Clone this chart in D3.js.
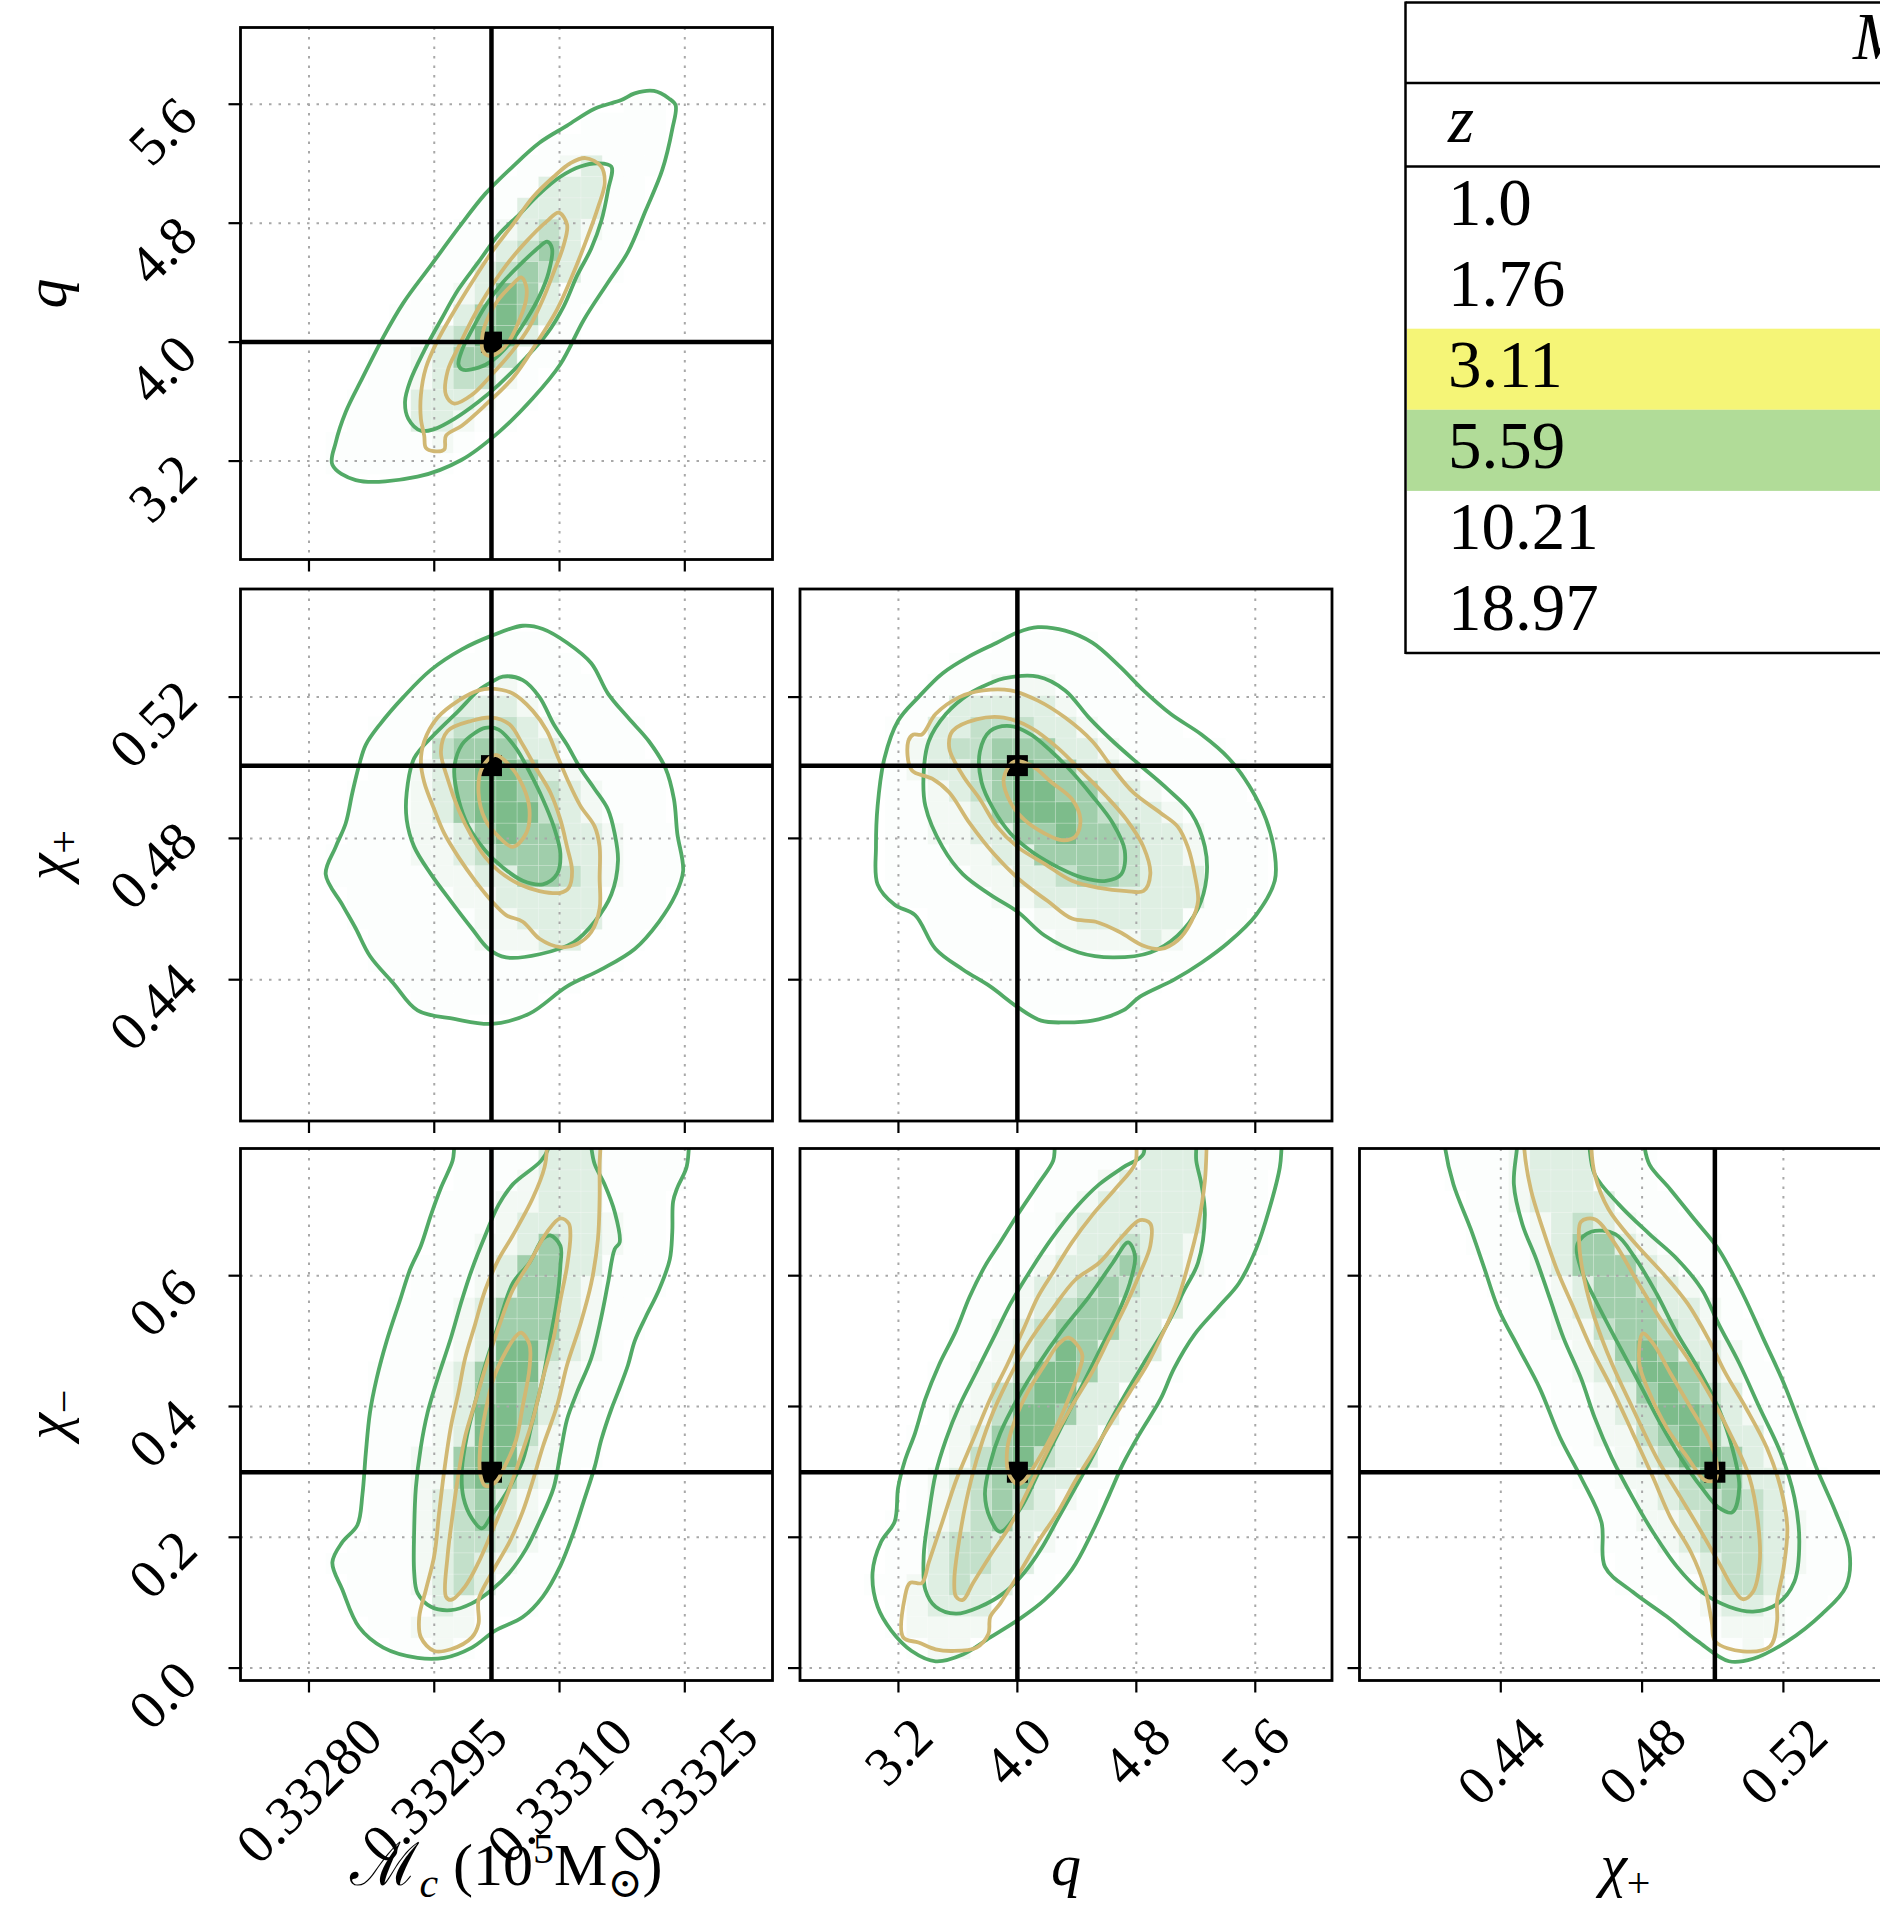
<!DOCTYPE html>
<html>
<head>
<meta charset="utf-8">
<script src="https://cdn.jsdelivr.net/npm/d3@7"></script>
<style>
body { margin: 0; background: #fff; }
svg { display: block; font-family: "Liberation Serif", "DejaVu Serif", serif; }
</style>
</head>
<body>
<svg id="chart" width="1880" height="1908"></svg>
<script>
// axis ranges, ticks and injected (true) values
const mcRange = [0.332718, 0.333355];
const qRange = [2.538, 6.116];
const chipRange = [0.4000, 0.5506];
const chimRange = [-0.019, 0.7945];

const mcTicks = [0.33280, 0.33295, 0.33310, 0.33325];
const qTicks = [3.2, 4.0, 4.8, 5.6];
const chipTicks = [0.44, 0.48, 0.52];
const chimTicks = [0.0, 0.2, 0.4, 0.6];

const truthMc = 0.3330185, truthQ = 4.0, truthChip = 0.5006, truthChim = 0.2995;

// redshift table
const zValues = ["1.0", "1.76", "3.11", "5.59", "10.21", "18.97"];
const zColors = { "3.11": "#f5f577", "5.59": "#b1dc98" };

// contours: g = green run (z=5.59), y = gold run (z=3.11), 3 = outer ... 1 = inner
// Mc vs q
const mcQ_g3 = [[0.332828,3.175],[0.332856,3.072],[0.332930,3.095],[0.332983,3.209],[0.333027,3.393],[0.333068,3.622],[0.333101,3.851],[0.333129,4.149],[0.333158,4.401],[0.333182,4.607],[0.333203,4.883],[0.333223,5.158],[0.333235,5.433],[0.333239,5.593],[0.333231,5.639],[0.333213,5.689],[0.333190,5.673],[0.333174,5.628],[0.333142,5.570],[0.333109,5.456],[0.333076,5.341],[0.333044,5.181],[0.333011,4.997],[0.332979,4.768],[0.332946,4.516],[0.332913,4.264],[0.332889,4.034],[0.332864,3.759],[0.332844,3.530],[0.332832,3.324]];
const mcQ_g2 = [[0.333162,5.181],[0.333158,5.020],[0.333150,4.814],[0.333138,4.630],[0.333121,4.447],[0.333105,4.241],[0.333085,4.057],[0.333060,3.897],[0.333027,3.713],[0.333003,3.599],[0.332974,3.484],[0.332950,3.415],[0.332934,3.404],[0.332919,3.484],[0.332915,3.599],[0.332921,3.736],[0.332938,3.943],[0.332958,4.149],[0.332979,4.355],[0.333003,4.539],[0.333027,4.722],[0.333052,4.860],[0.333076,4.997],[0.333101,5.112],[0.333125,5.181],[0.333146,5.203]];
const mcQ_g1 = [[0.333085,4.676],[0.333091,4.630],[0.333087,4.470],[0.333076,4.309],[0.333060,4.149],[0.333040,3.989],[0.333019,3.874],[0.333003,3.828],[0.332983,3.817],[0.332979,3.851],[0.332983,3.943],[0.332995,4.080],[0.333011,4.241],[0.333032,4.401],[0.333056,4.539],[0.333076,4.642]];
const mcQ_y3 = [[0.333131,5.238],[0.333150,5.181],[0.333154,5.066],[0.333146,4.905],[0.333133,4.699],[0.333117,4.470],[0.333097,4.218],[0.333072,3.989],[0.333044,3.759],[0.333011,3.576],[0.332983,3.438],[0.332964,3.370],[0.332962,3.278],[0.332950,3.266],[0.332940,3.289],[0.332938,3.370],[0.332934,3.484],[0.332934,3.645],[0.332940,3.828],[0.332954,4.011],[0.332970,4.172],[0.332995,4.401],[0.333019,4.607],[0.333044,4.791],[0.333068,4.974],[0.333093,5.112],[0.333113,5.203]];
const mcQ_y2 = [[0.333099,4.871],[0.333109,4.791],[0.333105,4.653],[0.333093,4.470],[0.333080,4.287],[0.333064,4.103],[0.333044,3.943],[0.333019,3.782],[0.332995,3.645],[0.332974,3.587],[0.332964,3.645],[0.332966,3.805],[0.332979,3.966],[0.332995,4.149],[0.333011,4.309],[0.333036,4.516],[0.333060,4.676],[0.333085,4.814]];
const mcQ_y1 = [[0.333054,4.436],[0.333060,4.378],[0.333060,4.287],[0.333052,4.149],[0.333040,4.011],[0.333027,3.931],[0.333015,3.908],[0.333008,3.943],[0.333008,4.057],[0.333015,4.172],[0.333027,4.287],[0.333044,4.390]];

// Mc vs chi+
const mcChip_g3 = [[0.333056,0.5402],[0.333080,0.5393],[0.333109,0.5354],[0.333138,0.5296],[0.333158,0.5210],[0.333182,0.5142],[0.333207,0.5075],[0.333227,0.4998],[0.333237,0.4911],[0.333241,0.4814],[0.333248,0.4708],[0.333239,0.4641],[0.333219,0.4564],[0.333190,0.4487],[0.333150,0.4429],[0.333109,0.4381],[0.333064,0.4304],[0.333019,0.4275],[0.332974,0.4289],[0.332930,0.4313],[0.332901,0.4390],[0.332873,0.4467],[0.332856,0.4545],[0.332840,0.4612],[0.332820,0.4699],[0.332832,0.4776],[0.332844,0.4843],[0.332852,0.4930],[0.332860,0.5007],[0.332868,0.5065],[0.332885,0.5123],[0.332913,0.5200],[0.332946,0.5277],[0.332983,0.5335],[0.333019,0.5374]];
const mcChip_g2 = [[0.333032,0.5258],[0.333056,0.5248],[0.333076,0.5200],[0.333093,0.5123],[0.333109,0.5065],[0.333125,0.4998],[0.333142,0.4940],[0.333158,0.4882],[0.333166,0.4814],[0.333170,0.4737],[0.333162,0.4641],[0.333142,0.4564],[0.333117,0.4506],[0.333076,0.4472],[0.333036,0.4463],[0.333015,0.4487],[0.332995,0.4545],[0.332970,0.4622],[0.332946,0.4699],[0.332926,0.4776],[0.332917,0.4853],[0.332917,0.4930],[0.332926,0.5027],[0.332950,0.5094],[0.332979,0.5161],[0.333003,0.5219],[0.333019,0.5243]];
const mcChip_g1 = [[0.333011,0.5113],[0.333027,0.5108],[0.333048,0.5055],[0.333064,0.4988],[0.333080,0.4911],[0.333093,0.4834],[0.333101,0.4757],[0.333097,0.4699],[0.333080,0.4670],[0.333056,0.4680],[0.333032,0.4718],[0.333011,0.4766],[0.332991,0.4834],[0.332979,0.4911],[0.332974,0.4998],[0.332983,0.5065],[0.332999,0.5099]];
const mcChip_y3 = [[0.333019,0.5224],[0.333044,0.5210],[0.333068,0.5161],[0.333085,0.5104],[0.333097,0.5036],[0.333109,0.4969],[0.333125,0.4892],[0.333142,0.4834],[0.333148,0.4776],[0.333148,0.4689],[0.333148,0.4602],[0.333138,0.4535],[0.333121,0.4501],[0.333101,0.4492],[0.333076,0.4516],[0.333056,0.4564],[0.333036,0.4583],[0.333019,0.4622],[0.332999,0.4680],[0.332979,0.4747],[0.332962,0.4814],[0.332950,0.4882],[0.332938,0.4959],[0.332934,0.5017],[0.332938,0.5075],[0.332954,0.5142],[0.332979,0.5190],[0.333003,0.5219]];
const mcChip_y2 = [[0.333019,0.5142],[0.333040,0.5123],[0.333056,0.5065],[0.333072,0.4998],[0.333089,0.4930],[0.333101,0.4853],[0.333109,0.4776],[0.333115,0.4708],[0.333111,0.4660],[0.333101,0.4646],[0.333076,0.4651],[0.333052,0.4670],[0.333027,0.4708],[0.333011,0.4747],[0.332995,0.4805],[0.332979,0.4882],[0.332966,0.4969],[0.332958,0.5046],[0.332966,0.5104],[0.332995,0.5133]];
const mcChip_y1 = [[0.333023,0.5036],[0.333040,0.5007],[0.333056,0.4949],[0.333064,0.4882],[0.333060,0.4814],[0.333044,0.4776],[0.333027,0.4805],[0.333011,0.4853],[0.333003,0.4930],[0.333007,0.4998]];

// q vs chi+
const qChip_g3 = [[4.138,0.5398],[4.321,0.5388],[4.504,0.5354],[4.688,0.5287],[4.848,0.5219],[5.032,0.5152],[5.238,0.5094],[5.421,0.5027],[5.559,0.4949],[5.673,0.4853],[5.731,0.4757],[5.731,0.4680],[5.605,0.4583],[5.421,0.4506],[5.238,0.4448],[5.054,0.4400],[4.825,0.4352],[4.711,0.4313],[4.504,0.4284],[4.321,0.4279],[4.160,0.4284],[4.000,0.4323],[3.817,0.4381],[3.633,0.4429],[3.450,0.4487],[3.312,0.4583],[3.175,0.4612],[3.060,0.4670],[3.049,0.4776],[3.060,0.4892],[3.106,0.5027],[3.198,0.5133],[3.335,0.5200],[3.496,0.5267],[3.679,0.5316],[3.862,0.5354],[4.000,0.5383]];
const qChip_g2 = [[3.908,0.5253],[4.138,0.5258],[4.321,0.5219],[4.481,0.5142],[4.642,0.5075],[4.825,0.5007],[5.009,0.4940],[5.169,0.4872],[5.261,0.4776],[5.272,0.4689],[5.215,0.4602],[5.077,0.4525],[4.894,0.4477],[4.642,0.4463],[4.413,0.4477],[4.183,0.4525],[4.000,0.4593],[3.817,0.4641],[3.633,0.4699],[3.496,0.4776],[3.381,0.4892],[3.370,0.4988],[3.404,0.5075],[3.519,0.5152],[3.679,0.5210],[3.817,0.5239]];
const qChip_g1 = [[3.817,0.5104],[3.954,0.5118],[4.092,0.5094],[4.229,0.5046],[4.367,0.4988],[4.504,0.4920],[4.642,0.4843],[4.722,0.4766],[4.699,0.4699],[4.596,0.4680],[4.436,0.4689],[4.275,0.4718],[4.115,0.4757],[3.954,0.4814],[3.840,0.4882],[3.759,0.4959],[3.748,0.5046]];
const qChip_y3 = [[3.771,0.5219],[3.954,0.5219],[4.138,0.5190],[4.321,0.5142],[4.504,0.5075],[4.642,0.4998],[4.779,0.4930],[4.963,0.4872],[5.077,0.4834],[5.146,0.4776],[5.192,0.4699],[5.215,0.4622],[5.169,0.4564],[5.077,0.4511],[4.963,0.4487],[4.848,0.4496],[4.688,0.4535],[4.527,0.4564],[4.367,0.4573],[4.206,0.4622],[4.023,0.4680],[3.840,0.4757],[3.679,0.4843],[3.542,0.4930],[3.427,0.4969],[3.289,0.4993],[3.266,0.5075],[3.301,0.5094],[3.358,0.5094],[3.450,0.5152],[3.610,0.5200]];
const qChip_y2 = [[3.725,0.5137],[3.908,0.5142],[4.092,0.5113],[4.275,0.5055],[4.436,0.4988],[4.596,0.4920],[4.734,0.4853],[4.848,0.4776],[4.894,0.4699],[4.848,0.4651],[4.734,0.4651],[4.550,0.4660],[4.367,0.4680],[4.183,0.4728],[4.000,0.4776],[3.862,0.4834],[3.748,0.4911],[3.633,0.4978],[3.542,0.5055],[3.564,0.5104]];
const qChip_y1 = [[3.977,0.5017],[4.092,0.5007],[4.229,0.4959],[4.367,0.4911],[4.424,0.4853],[4.390,0.4805],[4.298,0.4795],[4.183,0.4814],[4.046,0.4853],[3.954,0.4901],[3.908,0.4969]];

// Mc vs chi- (contours run off the top edge)
const mcChim_g3 = [[0.332979,0.8385],[0.332974,0.7968],[0.332972,0.7760],[0.332958,0.7344],[0.332946,0.6927],[0.332934,0.6458],[0.332921,0.6094],[0.332909,0.5625],[0.332893,0.5000],[0.332881,0.4427],[0.332873,0.3906],[0.332868,0.3281],[0.332864,0.2656],[0.332858,0.2188],[0.332840,0.1927],[0.332828,0.1615],[0.332840,0.1198],[0.332860,0.0625],[0.332889,0.0313],[0.332930,0.0156],[0.332962,0.0156],[0.332995,0.0313],[0.333023,0.0573],[0.333056,0.0781],[0.333080,0.1094],[0.333101,0.1563],[0.333117,0.2083],[0.333129,0.2552],[0.333142,0.3073],[0.333150,0.3490],[0.333162,0.3958],[0.333170,0.4219],[0.333182,0.4635],[0.333190,0.5000],[0.333203,0.5365],[0.333219,0.5781],[0.333232,0.6250],[0.333235,0.6667],[0.333236,0.7135],[0.333241,0.7344],[0.333252,0.7656],[0.333255,0.7968],[0.333258,0.8385]];
const mcChim_g2 = [[0.333087,0.8385],[0.333087,0.7968],[0.333078,0.7760],[0.333044,0.7396],[0.333027,0.7083],[0.333011,0.6615],[0.332995,0.6094],[0.332983,0.5625],[0.332970,0.5052],[0.332954,0.4427],[0.332942,0.3906],[0.332934,0.3385],[0.332928,0.2760],[0.332926,0.2135],[0.332926,0.1458],[0.332930,0.1146],[0.332946,0.0938],[0.332970,0.0886],[0.332995,0.0990],[0.333019,0.1198],[0.333040,0.1458],[0.333060,0.1823],[0.333076,0.2240],[0.333093,0.2760],[0.333101,0.3281],[0.333109,0.3802],[0.333121,0.4219],[0.333138,0.4740],[0.333150,0.5365],[0.333158,0.5885],[0.333166,0.6406],[0.333172,0.6510],[0.333166,0.6979],[0.333154,0.7396],[0.333142,0.7708],[0.333138,0.7968],[0.333135,0.8385]];
const mcChim_g1 = [[0.333089,0.6615],[0.333101,0.6458],[0.333101,0.6146],[0.333097,0.5625],[0.333089,0.5052],[0.333080,0.4427],[0.333068,0.3802],[0.333056,0.3177],[0.333040,0.2760],[0.333019,0.2344],[0.333007,0.2135],[0.332995,0.2292],[0.332985,0.2604],[0.332983,0.3021],[0.332989,0.3542],[0.332999,0.4063],[0.333011,0.4635],[0.333027,0.5260],[0.333044,0.5885],[0.333064,0.6198],[0.333080,0.6562]];
const mcChim_y3 = [[0.333085,0.8385],[0.333085,0.7968],[0.333082,0.7656],[0.333068,0.7187],[0.333044,0.6615],[0.333027,0.6250],[0.333011,0.5781],[0.332999,0.5260],[0.332987,0.4740],[0.332979,0.4219],[0.332970,0.3698],[0.332962,0.3021],[0.332956,0.2396],[0.332950,0.1719],[0.332940,0.1198],[0.332932,0.0781],[0.332934,0.0469],[0.332950,0.0261],[0.332970,0.0287],[0.332995,0.0469],[0.333003,0.0677],[0.333003,0.1042],[0.333019,0.1458],[0.333040,0.1927],[0.333056,0.2396],[0.333068,0.2865],[0.333080,0.3385],[0.333097,0.4010],[0.333109,0.4635],[0.333125,0.5260],[0.333138,0.5885],[0.333146,0.6562],[0.333148,0.7187],[0.333148,0.7708],[0.333149,0.7968],[0.333150,0.8385]];
const mcChim_y2 = [[0.333101,0.6875],[0.333111,0.6797],[0.333113,0.6615],[0.333109,0.6146],[0.333101,0.5625],[0.333093,0.5052],[0.333080,0.4427],[0.333068,0.3802],[0.333052,0.3177],[0.333036,0.2604],[0.333019,0.2083],[0.333003,0.1615],[0.332987,0.1250],[0.332970,0.1042],[0.332964,0.1094],[0.332966,0.1719],[0.332972,0.2344],[0.332979,0.2969],[0.332987,0.3542],[0.332999,0.4063],[0.333011,0.4583],[0.333027,0.5208],[0.333044,0.5781],[0.333064,0.6198],[0.333085,0.6667]];
const mcChim_y1 = [[0.333054,0.5130],[0.333064,0.4948],[0.333064,0.4583],[0.333056,0.4010],[0.333048,0.3490],[0.333036,0.3125],[0.333023,0.2839],[0.333011,0.2787],[0.333005,0.2969],[0.333005,0.3385],[0.333011,0.3906],[0.333021,0.4427],[0.333036,0.4844],[0.333048,0.5078]];

// q vs chi-
const qChim_g3 = [[4.275,0.8385],[4.252,0.7968],[4.241,0.7760],[4.138,0.7396],[4.000,0.6927],[3.885,0.6510],[3.782,0.6146],[3.679,0.5677],[3.587,0.5156],[3.473,0.4635],[3.381,0.4115],[3.312,0.3594],[3.244,0.3177],[3.198,0.2760],[3.175,0.2240],[3.083,0.1927],[3.026,0.1458],[3.060,0.0938],[3.152,0.0573],[3.289,0.0261],[3.450,0.0104],[3.633,0.0208],[3.817,0.0469],[4.000,0.0729],[4.183,0.1042],[4.367,0.1510],[4.504,0.2083],[4.619,0.2656],[4.711,0.3125],[4.825,0.3594],[4.963,0.4115],[5.054,0.4583],[5.192,0.5104],[5.352,0.5521],[5.490,0.5885],[5.605,0.6406],[5.696,0.7031],[5.765,0.7656],[5.777,0.7968],[5.788,0.8385]];
const qChim_g2 = [[4.848,0.8385],[4.848,0.7864],[4.711,0.7656],[4.550,0.7396],[4.390,0.7031],[4.229,0.6562],[4.092,0.6094],[3.954,0.5573],[3.840,0.5052],[3.725,0.4531],[3.610,0.4010],[3.519,0.3490],[3.450,0.2969],[3.404,0.2344],[3.370,0.1719],[3.381,0.1198],[3.450,0.0938],[3.587,0.0833],[3.748,0.0938],[3.908,0.1146],[4.046,0.1458],[4.160,0.1823],[4.275,0.2292],[4.390,0.2760],[4.504,0.3229],[4.619,0.3750],[4.734,0.4219],[4.871,0.4740],[5.009,0.5260],[5.123,0.5781],[5.215,0.6198],[5.261,0.6927],[5.238,0.7396],[5.203,0.7760],[5.203,0.7968],[5.203,0.8385]];
const qChim_g1 = [[4.745,0.6510],[4.791,0.6302],[4.756,0.5885],[4.665,0.5365],[4.550,0.4844],[4.413,0.4219],[4.275,0.3594],[4.138,0.2969],[4.023,0.2448],[3.885,0.2083],[3.817,0.2292],[3.782,0.2656],[3.817,0.3125],[3.885,0.3594],[4.000,0.4115],[4.138,0.4635],[4.298,0.5156],[4.481,0.5677],[4.642,0.6198]];
const qChim_y3 = [[4.802,0.8385],[4.802,0.7968],[4.791,0.7708],[4.665,0.7344],[4.504,0.6927],[4.367,0.6510],[4.252,0.6094],[4.138,0.5677],[4.046,0.5208],[3.931,0.4635],[3.817,0.4115],[3.702,0.3490],[3.587,0.2865],[3.496,0.2240],[3.404,0.1615],[3.358,0.1302],[3.278,0.1302],[3.244,0.1094],[3.232,0.0469],[3.335,0.0391],[3.450,0.0287],[3.564,0.0261],[3.725,0.0313],[3.805,0.0521],[3.817,0.0781],[3.885,0.0990],[4.000,0.1406],[4.138,0.1927],[4.275,0.2396],[4.390,0.2865],[4.504,0.3281],[4.642,0.3802],[4.756,0.4219],[4.871,0.4635],[4.986,0.5156],[5.077,0.5625],[5.146,0.6146],[5.215,0.6771],[5.261,0.7448],[5.272,0.7968],[5.272,0.8385]];
const qChim_y2 = [[4.825,0.6849],[4.894,0.6797],[4.894,0.6458],[4.825,0.6042],[4.734,0.5573],[4.619,0.5052],[4.504,0.4531],[4.367,0.4010],[4.229,0.3438],[4.092,0.2813],[3.954,0.2188],[3.817,0.1719],[3.702,0.1302],[3.633,0.1042],[3.587,0.1094],[3.576,0.1354],[3.610,0.1979],[3.656,0.2552],[3.725,0.3177],[3.817,0.3802],[3.931,0.4375],[4.069,0.4948],[4.229,0.5469],[4.390,0.5938],[4.550,0.6198],[4.711,0.6615]];
const qChim_y1 = [[4.344,0.5052],[4.436,0.4792],[4.413,0.4531],[4.344,0.4115],[4.252,0.3646],[4.138,0.3177],[4.046,0.2865],[4.000,0.2813],[3.943,0.2969],[3.931,0.3333],[3.977,0.3750],[4.069,0.4219],[4.183,0.4635],[4.275,0.4948]];

// chi+ vs chi-
const chipChim_g3 = [[0.4237,0.8382],[0.4242,0.7965],[0.4266,0.7395],[0.4315,0.6711],[0.4354,0.6104],[0.4393,0.5496],[0.4451,0.4889],[0.4510,0.4281],[0.4568,0.3522],[0.4627,0.2914],[0.4685,0.2230],[0.4695,0.1547],[0.4773,0.1167],[0.4870,0.0787],[0.4958,0.0408],[0.5046,0.0104],[0.5114,0.0142],[0.5211,0.0408],[0.5309,0.0825],[0.5377,0.1243],[0.5387,0.1775],[0.5348,0.2382],[0.5299,0.2990],[0.5250,0.3673],[0.5201,0.4357],[0.5143,0.5041],[0.5085,0.5724],[0.5016,0.6408],[0.4948,0.6863],[0.4880,0.7319],[0.4821,0.7699],[0.4807,0.7965],[0.4802,0.8382]];
const chipChim_g2 = [[0.4451,0.8382],[0.4446,0.7965],[0.4437,0.7395],[0.4461,0.6787],[0.4500,0.6256],[0.4539,0.5648],[0.4578,0.5041],[0.4627,0.4433],[0.4666,0.3825],[0.4714,0.3218],[0.4773,0.2610],[0.4831,0.2078],[0.4899,0.1547],[0.4968,0.1167],[0.5046,0.0939],[0.5114,0.0863],[0.5182,0.0977],[0.5231,0.1319],[0.5245,0.1927],[0.5231,0.2610],[0.5192,0.3294],[0.5133,0.3977],[0.5075,0.4661],[0.5016,0.5268],[0.4968,0.5800],[0.4899,0.6256],[0.4821,0.6635],[0.4734,0.7091],[0.4666,0.7547],[0.4651,0.7965],[0.4646,0.8382]];
const chipChim_g1 = [[0.4617,0.6484],[0.4656,0.6673],[0.4724,0.6635],[0.4782,0.6256],[0.4841,0.5724],[0.4899,0.5116],[0.4958,0.4585],[0.5016,0.3977],[0.5055,0.3370],[0.5075,0.2762],[0.5055,0.2382],[0.5016,0.2458],[0.4968,0.2762],[0.4909,0.3218],[0.4851,0.3749],[0.4792,0.4357],[0.4724,0.5041],[0.4666,0.5648],[0.4627,0.6104]];
const chipChim_y3 = [[0.4466,0.8382],[0.4466,0.7965],[0.4485,0.7319],[0.4519,0.6711],[0.4558,0.6104],[0.4607,0.5496],[0.4656,0.4889],[0.4714,0.4281],[0.4773,0.3597],[0.4831,0.2914],[0.4880,0.2306],[0.4938,0.1775],[0.4977,0.1243],[0.4997,0.0711],[0.5007,0.0408],[0.5085,0.0256],[0.5162,0.0332],[0.5182,0.0711],[0.5182,0.1015],[0.5201,0.1547],[0.5211,0.2154],[0.5192,0.2762],[0.5153,0.3370],[0.5094,0.3977],[0.5036,0.4509],[0.4987,0.5041],[0.4929,0.5572],[0.4860,0.6028],[0.4782,0.6484],[0.4705,0.7015],[0.4666,0.7547],[0.4656,0.7965],[0.4656,0.8382]];
const chipChim_y2 = [[0.4627,0.6825],[0.4666,0.6863],[0.4724,0.6484],[0.4782,0.5952],[0.4851,0.5344],[0.4929,0.4737],[0.4997,0.4129],[0.5055,0.3522],[0.5104,0.2914],[0.5128,0.2230],[0.5133,0.1623],[0.5114,0.1167],[0.5085,0.1053],[0.5055,0.1243],[0.5016,0.1623],[0.4968,0.2078],[0.4909,0.2610],[0.4841,0.3218],[0.4773,0.3977],[0.4714,0.4661],[0.4666,0.5344],[0.4636,0.5952],[0.4622,0.6484]];
const chipChim_y1 = [[0.4802,0.5116],[0.4831,0.4965],[0.4880,0.4509],[0.4938,0.3977],[0.4987,0.3522],[0.5011,0.3142],[0.5007,0.2876],[0.4977,0.2876],[0.4929,0.3218],[0.4870,0.3673],[0.4821,0.4205],[0.4792,0.4661]];

// ---------------------------------------------------------------

const svg = d3.select("#chart");

const size = 532;
const colX = [240.5, 800, 1359.5];
const rowY = [27.5, 589, 1148.5];
const greenColor = "#52aa66";
const goldColor = "#d1b873";
const cellColor = "#4fa463";
const cellAlpha = [0, 0.015, 0.07, 0.18, 0.34, 0.54, 0.74];
const tickFont = 55;
const labelFont = 60;
const nBins = 25;

const params = {
	mc: { range: mcRange, ticks: mcTicks, fmt: d3.format(".5f"), truth: truthMc },
	q: { range: qRange, ticks: qTicks, fmt: d3.format(".1f"), truth: truthQ },
	chip: { range: chipRange, ticks: chipTicks, fmt: d3.format(".2f"), truth: truthChip },
	chim: { range: chimRange, ticks: chimTicks, fmt: d3.format(".1f"), truth: truthChim },
};
const colParams = ["mc", "q", "chip"];
const rowParams = ["q", "chip", "chim"];

const panels = [
	{ row: 0, col: 0, green: [mcQ_g3, mcQ_g2, mcQ_g1], gold: [mcQ_y3, mcQ_y2, mcQ_y1] },
	{ row: 1, col: 0, green: [mcChip_g3, mcChip_g2, mcChip_g1], gold: [mcChip_y3, mcChip_y2, mcChip_y1] },
	{ row: 1, col: 1, green: [qChip_g3, qChip_g2, qChip_g1], gold: [qChip_y3, qChip_y2, qChip_y1] },
	{ row: 2, col: 0, green: [mcChim_g3, mcChim_g2, mcChim_g1], gold: [mcChim_y3, mcChim_y2, mcChim_y1] },
	{ row: 2, col: 1, green: [qChim_g3, qChim_g2, qChim_g1], gold: [qChim_y3, qChim_y2, qChim_y1] },
	{ row: 2, col: 2, green: [chipChim_g3, chipChim_g2, chipChim_g1], gold: [chipChim_y3, chipChim_y2, chipChim_y1] },
];

// Table (cut by the right edge, as in the original)
var tableX = 1405.5;
var bodyTop = 166.5;
var rowH = 81.1;
var table = svg.append("g").attr("id", "ztable");

table.selectAll("rect.hl")
	.data(zValues.map(function (z, i) { return { z: z, i: i }; }).filter(function (d) { return zColors[d.z]; }))
	.join("rect")
	.attr("class", "hl")
	.attr("x", tableX + 1.5)
	.attr("y", function (d) { return bodyTop + d.i * rowH; })
	.attr("width", 1880 - tableX)
	.attr("height", rowH)
	.attr("fill", function (d) { return zColors[d.z]; });

table.selectAll("text.zval")
	.data(zValues)
	.join("text")
	.attr("class", "zval")
	.attr("x", 1448)
	.attr("y", function (d, i) { return bodyTop + i * rowH + 58; })
	.style("font-size", "67px")
	.text(function (d) { return d; });

table.append("text").attr("x", 1448).attr("y", 142)
	.style("font-size", "67px").style("font-style", "italic").text("z");
table.append("text").attr("x", 1853).attr("y", 59)
	.style("font-size", "67px").style("font-style", "italic").text("M");

table.selectAll("line.h")
	.data([2.5, 83, bodyTop, bodyTop + zValues.length * rowH])
	.join("line")
	.attr("class", "h")
	.attr("x1", tableX).attr("x2", 1880)
	.attr("y1", function (d) { return d; }).attr("y2", function (d) { return d; })
	.attr("stroke", "#000").attr("stroke-width", 2.5);
table.append("line")
	.attr("x1", tableX).attr("x2", tableX)
	.attr("y1", 1.5).attr("y2", bodyTop + zValues.length * rowH + 1)
	.attr("stroke", "#000").attr("stroke-width", 2.5);

// helper for 45 degree tick labels: returns side of rotated box
function rotatedSide(node) {
	var w = node.getComputedTextLength();
	return (w + 0.7 * tickFont) * Math.SQRT1_2;
}

panels.forEach(function (p, k) {
	var px = params[colParams[p.col]];
	var py = params[rowParams[p.row]];
	var left = colX[p.col], top = rowY[p.row];
	var x = d3.scaleLinear().domain(px.range).range([left, left + size]);
	var y = d3.scaleLinear().domain(py.range).range([top + size, top]);

	svg.append("clipPath").attr("id", "clip" + k)
		.append("rect").attr("x", left).attr("y", top).attr("width", size).attr("height", size);
	var g = svg.append("g").attr("clip-path", "url(#clip" + k + ")");

	// 2D histogram shading: cell depth = number of contours around the cell centre
	var all = p.green.concat(p.gold);
	var dx = (px.range[1] - px.range[0]) / nBins;
	var dy = (py.range[1] - py.range[0]) / nBins;
	var cells = [];
	for (var i = 0; i < nBins; i++) {
		for (var j = 0; j < nBins; j++) {
			var cx = px.range[0] + (i + 0.5) * dx;
			var cy = py.range[0] + (j + 0.5) * dy;
			var n = all.filter(function (poly) { return d3.polygonContains(poly, [cx, cy]); }).length;
			if (n > 0) cells.push({ x0: px.range[0] + i * dx, y0: py.range[0] + j * dy, n: n });
		}
	}
	g.selectAll("rect.cell")
		.data(cells)
		.join("rect")
		.attr("class", "cell")
		.attr("x", function (d) { return x(d.x0); })
		.attr("y", function (d) { return y(d.y0 + dy); })
		.attr("width", function (d) { return x(d.x0 + dx) - x(d.x0); })
		.attr("height", function (d) { return y(d.y0) - y(d.y0 + dy); })
		.attr("fill", cellColor)
		.attr("fill-opacity", function (d) { return cellAlpha[d.n]; })
		.attr("stroke", "#fff")
		.attr("stroke-opacity", 0.25)
		.attr("stroke-width", 0.8);

	// dotted grid
	g.selectAll("line.gx").data(px.ticks).join("line")
		.attr("x1", function (d) { return x(d); }).attr("x2", function (d) { return x(d); })
		.attr("y1", top).attr("y2", top + size)
		.attr("stroke", "#a8a8a8").attr("stroke-width", 2).attr("stroke-dasharray", "2.5,7");
	g.selectAll("line.gy").data(py.ticks).join("line")
		.attr("y1", function (d) { return y(d); }).attr("y2", function (d) { return y(d); })
		.attr("x1", left).attr("x2", left + size)
		.attr("stroke", "#a8a8a8").attr("stroke-width", 2).attr("stroke-dasharray", "2.5,7");

	// truth marker
	g.append("rect")
		.attr("x", x(px.truth) - 10.5).attr("y", y(py.truth) - 10.5)
		.attr("width", 21).attr("height", 21)
		.attr("fill", "#000");

	var line = d3.line()
		.x(function (d) { return x(d[0]); })
		.y(function (d) { return y(d[1]); })
		.curve(d3.curveCatmullRomClosed.alpha(0.5));

	g.selectAll("path.green").data(p.green).join("path")
		.attr("d", line).attr("fill", "none")
		.attr("stroke", greenColor).attr("stroke-width", 3.8).attr("stroke-linejoin", "round");
	g.selectAll("path.gold").data(p.gold).join("path")
		.attr("d", line).attr("fill", "none")
		.attr("stroke", goldColor).attr("stroke-width", 3.8).attr("stroke-linejoin", "round");

	// truth lines
	g.append("line")
		.attr("x1", x(px.truth)).attr("x2", x(px.truth))
		.attr("y1", top).attr("y2", top + size)
		.attr("stroke", "#000").attr("stroke-width", 4.5);
	g.append("line")
		.attr("x1", left).attr("x2", left + size)
		.attr("y1", y(py.truth)).attr("y2", y(py.truth))
		.attr("stroke", "#000").attr("stroke-width", 4.5);

	// frame
	svg.append("rect")
		.attr("x", left).attr("y", top).attr("width", size).attr("height", size)
		.attr("fill", "none").attr("stroke", "#000").attr("stroke-width", 2.8);

	// outward ticks
	svg.selectAll("line.tx" + k).data(px.ticks).join("line")
		.attr("x1", function (d) { return x(d); }).attr("x2", function (d) { return x(d); })
		.attr("y1", top + size).attr("y2", top + size + 12)
		.attr("stroke", "#000").attr("stroke-width", 2.2);
	svg.selectAll("line.ty" + k).data(py.ticks).join("line")
		.attr("y1", function (d) { return y(d); }).attr("y2", function (d) { return y(d); })
		.attr("x1", left - 12).attr("x2", left)
		.attr("stroke", "#000").attr("stroke-width", 2.2);

	// tick labels only on the outer edge
	if (p.row === 2) {
		svg.selectAll("text.lx" + k).data(px.ticks).join("text")
			.attr("text-anchor", "middle").attr("dominant-baseline", "central")
			.style("font-size", tickFont + "px")
			.text(function (d) { return px.fmt(d); })
			.attr("transform", function (d) {
				var s = rotatedSide(this);
				return "translate(" + x(d) + "," + (top + size + 33 + s / 2) + ") rotate(-45)";
			});
	}
	if (p.col === 0) {
		svg.selectAll("text.ly" + k).data(py.ticks).join("text")
			.attr("text-anchor", "middle").attr("dominant-baseline", "central")
			.style("font-size", tickFont + "px")
			.text(function (d) { return py.fmt(d); })
			.attr("transform", function (d) {
				var s = rotatedSide(this);
				return "translate(" + (left - 40 - s / 2) + "," + (y(d) + 27) + ") rotate(-45)";
			});
	}
});

// axis labels
function addLabel(sel, parts) {
	parts.forEach(function (pt) {
		var t = sel.append("tspan").text(pt.t);
		if (pt.italic) t.style("font-style", "italic");
		if (pt.size) t.style("font-size", pt.size + "px");
		if (pt.dy) t.attr("dy", pt.dy);
	});
}

var leftLabels = [
	[{ t: "q", italic: true }],
	[{ t: "χ", italic: true }, { t: "+", size: 42, dy: 12 }],
	[{ t: "χ", italic: true }, { t: "−", size: 42, dy: 12 }],
];
leftLabels.forEach(function (parts, r) {
	var t = svg.append("text")
		.attr("text-anchor", "middle")
		.style("font-size", labelFont + "px")
		.attr("transform", "translate(66," + (rowY[r] + size / 2) + ") rotate(-90)");
	addLabel(t, parts);
});

var bottomLabels = [
	[{ t: "ℳ", italic: false }, { t: "c", italic: true, size: 42, dy: 12 }, { t: " (10", dy: -12 },
	 { t: "5", size: 42, dy: -22 }, { t: "M", dy: 22 }, { t: "⊙", size: 42, dy: 12 }, { t: ")", dy: -12 }],
	[{ t: "q", italic: true }],
	[{ t: "χ", italic: true }, { t: "+", size: 42, dy: 12 }],
];
bottomLabels.forEach(function (parts, c) {
	var t = svg.append("text")
		.attr("text-anchor", "middle")
		.attr("x", colX[c] + size / 2)
		.attr("y", 1885)
		.style("font-size", labelFont + "px");
	addLabel(t, parts);
});
</script>
</body>
</html>
